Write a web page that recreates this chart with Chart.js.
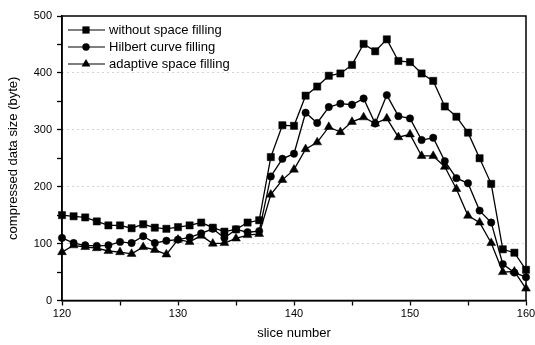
<!DOCTYPE html>
<html>
<head>
<meta charset="utf-8">
<script src="https://cdn.jsdelivr.net/npm/chart.js@4.4.1/dist/chart.umd.min.js"></script>
<style>
html,body{margin:0;padding:0;background:#fff;}
#wrap{width:535px;height:345px;position:relative;}
</style>
</head>
<body>
<div id="wrap"><canvas id="c" width="535" height="345"></canvas></div>
<script>
const slices = [120,121,122,123,124,125,126,127,128,129,130,131,132,133,134,135,136,137,138,139,140,141,142,143,144,145,146,147,148,149,150,151,152,153,154,155,156,157,158,159,160];
const withoutFilling = [150,148,146,139,132,132,127,134,128,126,129,132,137,128,121,125,137,141,252,308,307,360,376,395,399,414,451,438,459,421,419,399,386,341,323,295,250,205,90,84,54];
const hilbertFilling = [110,101,97,96,97,103,101,113,101,105,107,111,118,126,110,125,120,122,218,249,258,330,312,340,346,344,355,311,361,324,320,282,286,245,215,206,158,137,64,49,41];
const adaptiveFilling = [85,97,94,92,87,85,82,94,89,81,107,103,114,100,101,109,115,117,186,212,230,266,278,305,296,314,322,311,320,287,292,254,254,235,196,149,137,101,50,51,21];
const seriesNames = ["without space filling","Hilbert curve filling","adaptive space filling"];
const xTickLabels = [120,130,140,150,160];
const yTickLabels = [0,100,200,300,400,500];

const styles = [
  {pointStyle:'rect', radius:5.1},
  {pointStyle:'circle', radius:3.7},
  {pointStyle:'triangle', radius:5.1}
];
const allSeries = [withoutFilling, hilbertFilling, adaptiveFilling];

function toXY(vals){ return slices.map((s,i)=>({x:s,y:vals[i]})); }

const datasets = allSeries.map((vals,k)=>({
  label: seriesNames[k],
  data: toXY(vals),
  borderColor:'#000',
  backgroundColor:'#000',
  borderWidth:1.3,
  pointStyle: styles[k].pointStyle,
  pointRadius: styles[k].radius,
  pointHoverRadius: styles[k].radius,
  pointBackgroundColor:'#000',
  pointBorderColor:'#000',
  pointBorderWidth:0.5,
  tension:0,
  fill:false,
  clip:false
}));

function drawMarker(ctx, style, r, x, y){
  ctx.beginPath();
  if(style==='rect'){
    const s = Math.SQRT1_2*r;
    ctx.rect(x-s,y-s,2*s,2*s);
  } else if(style==='circle'){
    ctx.arc(x,y,r,0,Math.PI*2);
  } else {
    let rad = 0;
    ctx.moveTo(x+Math.sin(rad)*r, y-Math.cos(rad)*r);
    rad += 2*Math.PI/3;
    ctx.lineTo(x+Math.sin(rad)*r, y-Math.cos(rad)*r);
    rad += 2*Math.PI/3;
    ctx.lineTo(x+Math.sin(rad)*r, y-Math.cos(rad)*r);
    ctx.closePath();
  }
  ctx.fill();
}

const framePlugin = {
  id:'frame',
  afterDraw(chart){
    const {ctx, chartArea:a} = chart;
    ctx.save();
    ctx.strokeStyle='#000';
    ctx.lineWidth=1.5;
    ctx.strokeRect(a.left,a.top,a.right-a.left,a.bottom-a.top);
    // legend
    const rows=[30,47,64];
    ctx.font='13px "Liberation Sans", Arial, sans-serif';
    ctx.textBaseline='middle';
    ctx.fillStyle='#000';
    seriesNames.forEach((name,k)=>{
      const y=rows[k];
      ctx.beginPath();
      ctx.lineWidth=1.2;
      ctx.moveTo(68,y); ctx.lineTo(105,y); ctx.stroke();
      drawMarker(ctx, styles[k].pointStyle, styles[k].radius, 86, y);
      ctx.fillText(name,109,y+0.5);
    });
    ctx.restore();
  }
};

new Chart(document.getElementById('c'),{
  type:'line',
  data:{datasets},
  options:{
    responsive:false,
    animation:false,
    devicePixelRatio:1,
    layout:{padding:{left:0,right:9,top:16,bottom:0}},
    plugins:{legend:{display:false},tooltip:{enabled:false}},
    scales:{
      x:{
        type:'linear',
        min:120,max:160,
        afterFit(s){ s.height=44.5; s.paddingLeft=0; s.paddingRight=0; },
        ticks:{
          stepSize:5,
          autoSkip:false,
          maxRotation:0,
          padding:2,
          color:'#000',
          font:{family:'"Liberation Sans", Arial, sans-serif',size:11},
          callback:(v)=> xTickLabels.includes(v) ? String(v) : ''
        },
        grid:{drawOnChartArea:false,drawTicks:true,tickLength:5,tickColor:'#000',tickWidth:1.3},
        border:{display:true,color:'#000',width:1.5},
        title:{display:true,text:'slice number',color:'#000',
          font:{family:'"Liberation Sans", Arial, sans-serif',size:13},padding:{top:0,bottom:4}}
      },
      y:{
        type:'linear',
        min:0,max:500,
        afterFit(s){ s.width=62; s.paddingTop=0; s.paddingBottom=0; },
        ticks:{
          stepSize:50,
          autoSkip:false,
          padding:5,
          color:'#000',
          font:{family:'"Liberation Sans", Arial, sans-serif',size:11},
          callback:(v)=> yTickLabels.includes(v) ? String(v) : ''
        },
        grid:{
          drawOnChartArea:true,
          drawTicks:true,
          tickLength:5,
          tickColor:'#000',
          tickWidth:1.3,
          lineWidth:1,
          color:(c)=>{ const v=c.tick && c.tick.value; return (v%100===0 && v>0 && v<500) ? '#a8a8a8' : 'rgba(0,0,0,0)'; }
        },
        border:{display:true,color:'#000',width:1.5,dash:[1,4]},
        title:{display:true,text:'compressed data size (byte)',color:'#000',
          font:{family:'"Liberation Sans", Arial, sans-serif',size:13},padding:{top:6,bottom:0}}
      }
    }
  },
  plugins:[framePlugin]
});
</script>
</body>
</html>
